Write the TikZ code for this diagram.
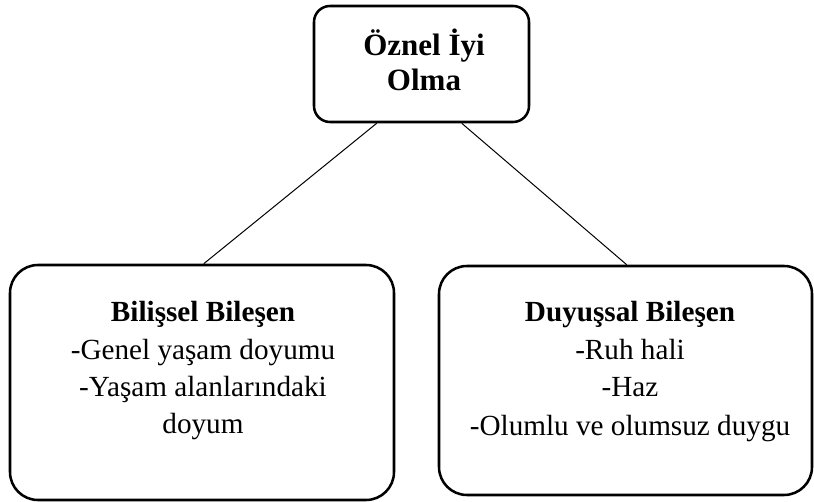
\documentclass[tikz,border=0pt]{standalone}
\usepackage{fontspec}
\setmainfont{Liberation Serif}
\usetikzlibrary{calc}
\begin{document}
\begin{tikzpicture}[x=0.75pt,y=-0.75pt,
  bigbox/.style={draw=black,line width=1.9pt,rounded corners=21pt,inner sep=0pt},
  topbox/.style={draw=black,line width=1.9pt,rounded corners=12pt,inner sep=0pt},
  head/.style={font=\fontsize{23.25pt}{26pt}\selectfont\bfseries,anchor=base,inner sep=0pt},
  sub/.style={font=\fontsize{21.9pt}{26pt}\selectfont\bfseries,anchor=base,inner sep=0pt},
  item/.style={font=\fontsize{21.9pt}{26pt}\selectfont,anchor=base,inner sep=0pt},
  link/.style={draw=black,line width=0.75pt}]
\useasboundingbox (0,0) rectangle (814,502);
\node[topbox,minimum width=161.25pt,minimum height=87pt] (top) at (421.5,64) {};
\node[bigbox,minimum width=288pt,minimum height=176.25pt] (left) at (202,382.5) {};
\node[bigbox,minimum width=279.75pt,minimum height=171.75pt] (right) at (625.5,380.5) {};
\node[head] (t1) at (424,56) {Öznel İyi};
\node[head] (t2) at (424,91) {Olma};
\node[sub] (l1) at (203,321) {Bilişsel Bileşen};
\node[item] (l2) at (203,359) {-Genel yaşam doyumu};
\node[item] (l3) at (203,396) {-Yaşam alanlarındaki};
\node[item] (l4) at (203,433) {doyum};
\node[sub] (r1) at (630,321) {Duyuşsal Bileşen};
\node[item] (r2) at (630,359) {-Ruh hali};
\node[item] (r3) at (630,397) {-Haz};
\node[item] (r4) at (630,435) {-Olumlu ve olumsuz duygu};
\draw[link] ($(top.south west)+(64,0)$) -- ($(left.north west)+(195,0)$);
\draw[link] ($(top.south west)+(149,0)$) -- ($(right.north west)+(189,0)$);
\end{tikzpicture}
\end{document}
